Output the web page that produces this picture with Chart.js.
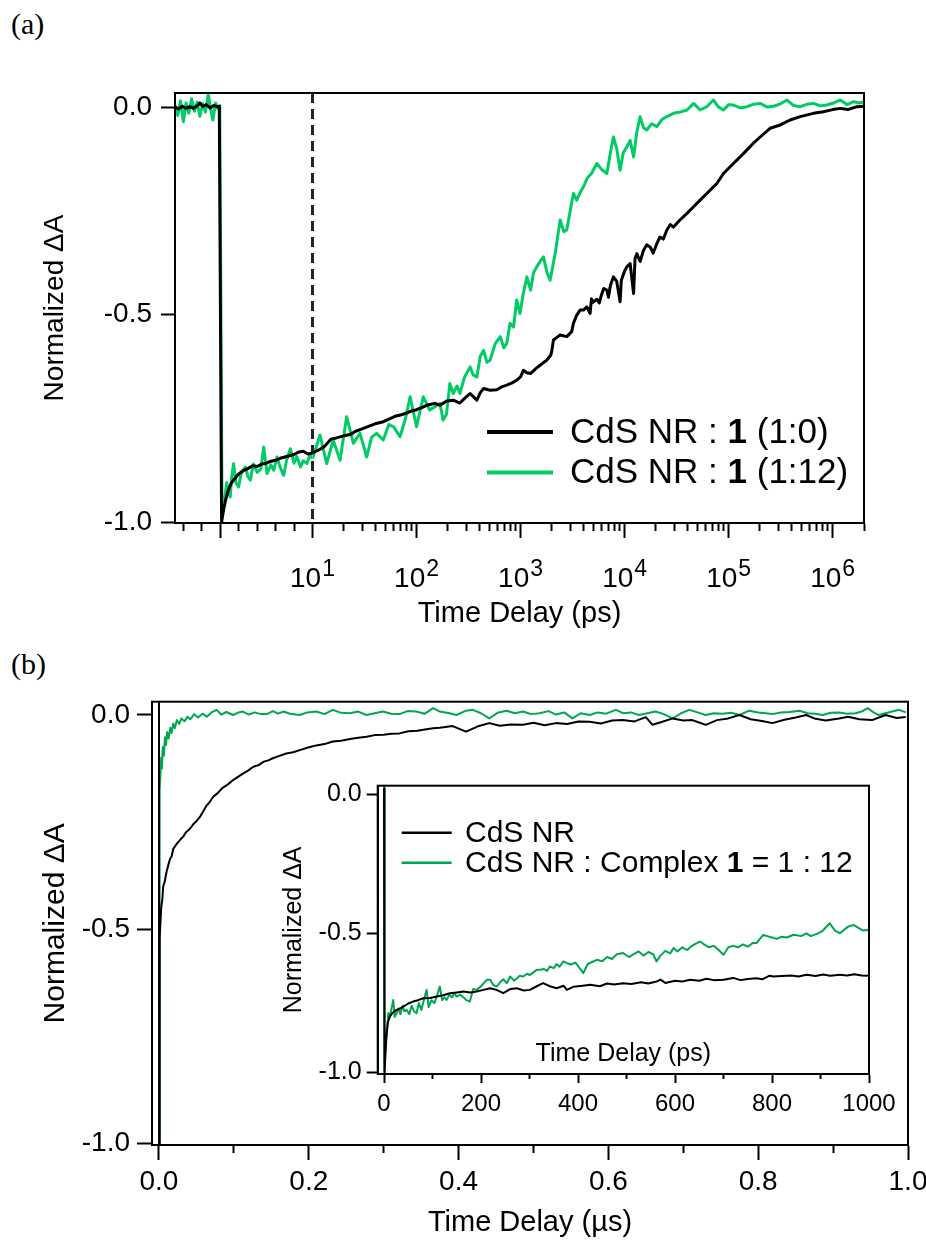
<!DOCTYPE html>
<html>
<head>
<meta charset="utf-8">
<script src="https://cdn.jsdelivr.net/npm/chart.js@4.4.1/dist/chart.umd.min.js"></script>
<style>
  html, body { margin: 0; padding: 0; background: #fff; }
  #page { position: relative; width: 926px; height: 1241px; overflow: hidden; background: #fff; }
  .panel { position: absolute; font-family: "Liberation Serif", "Times New Roman", serif; font-size: 30px; line-height: 30px; color: #000; }
  canvas { position: absolute; }
</style>
</head>
<body>
<div id="page">
  <div class="panel" style="left:11px;top:9px">(a)</div>
  <div class="panel" style="left:11px;top:649px">(b)</div>
  <canvas id="chartA" width="926" height="640" style="left:0;top:0"></canvas>
  <canvas id="chartB" width="926" height="601" style="left:0;top:640px"></canvas>
  <canvas id="chartInset" width="640" height="360" style="left:270px;top:760px"></canvas>
</div>
<script>
// ---- data (a): [time in ps, normalized dA] ----
const aBlack = [
  [-4.9,0.000],[-4.5,-0.004],[-4.1,0.002],[-3.7,-0.003],[-3.3,0.001],[-2.9,-0.003],[-2.5,0.003],[-2.2,0.010],
  [-1.9,0.002],[-1.5,0.006],[-1.1,-0.002],[-0.7,0.004],[-0.35,0.001],[-0.1,0.002],[0.15,-1.000],[0.35,-0.972],
  [0.6,-0.945],[0.9,-0.921],[1.2,-0.906],[1.5,-0.897],[2.0,-0.884],[2.5,-0.876],[3.0,-0.871],[3.5,-0.864],
  [4.0,-0.866],[4.5,-0.860],[5.0,-0.858],[5.5,-0.853],[6.0,-0.851],[6.5,-0.846],[7.0,-0.843],[7.5,-0.840],
  [8.0,-0.837],[8.5,-0.831],[9.0,-0.829],[9.5,-0.836],[10,-0.833],
  [11.5,-0.826],[13,-0.818],[15,-0.800],[17,-0.797],[20,-0.792],[23,-0.789],[26,-0.781],[30,-0.775],[34,-0.770],
  [40,-0.763],[48,-0.758],[55,-0.751],[62,-0.745],[70,-0.742],[80,-0.737],[90,-0.732],[100,-0.729],[115,-0.723],
  [130,-0.717],[150,-0.714],[168,-0.718],[195,-0.708],[225,-0.706],[261,-0.713],[295,-0.700],[327,-0.690],
  [380,-0.706],[410,-0.688],[441,-0.678],[510,-0.682],[590,-0.681],[660,-0.674],[736,-0.670],[820,-0.665],
  [918,-0.658],[1000,-0.650],[1064,-0.634],[1150,-0.640],[1247,-0.642],[1400,-0.630],[1540,-0.622],[1780,-0.610],
  [1950,-0.598],[2000,-0.586],[2070,-0.561],[2200,-0.556],[2400,-0.549],[2780,-0.553],[3100,-0.541],[3220,-0.521],
  [3470,-0.501],[3730,-0.489],[4020,-0.489],[4330,-0.481],[4660,-0.497],[4800,-0.462],[5000,-0.470],[5410,-0.463],
  [5700,-0.472],[6000,-0.452],[6300,-0.437],[6750,-0.441],[7000,-0.458],[7300,-0.430],[7800,-0.409],[8400,-0.420],
  [9050,-0.469],[9300,-0.417],[10000,-0.395],[10500,-0.385],[11300,-0.377],[12200,-0.449],[12600,-0.365],
  [13100,-0.353],[14100,-0.372],[15200,-0.345],[16300,-0.332],[17600,-0.337],[18800,-0.352],[20400,-0.329],
  [21900,-0.313],[23500,-0.318],[25500,-0.296],[27500,-0.283],[29500,-0.289],[34000,-0.272],[39800,-0.256],
  [46000,-0.240],[53200,-0.224],[61700,-0.208],[77000,-0.184],[89200,-0.160],[111000,-0.136],[129000,-0.120],
  [150000,-0.103],[173000,-0.087],[201000,-0.072],[250000,-0.051],[313000,-0.043],[390000,-0.031],[487000,-0.023],
  [653000,-0.015],[813000,-0.011],[1000000,-0.006],[1180000,-0.003],[1400000,-0.006],[1710000,0.001],[2000000,0.002]
];
const aGreen = [
  [-4.9,0.005],[-4.6,-0.020],[-4.3,0.015],[-4.0,-0.035],[-3.7,0.010],[-3.4,-0.015],[-3.1,0.020],[-2.8,-0.010],
  [-2.5,0.012],[-2.2,-0.022],[-1.9,0.008],[-1.6,-0.012],[-1.3,0.031],[-1.0,-0.008],[-0.8,-0.031],[-0.5,0.010],
  [-0.25,-0.004],[-0.05,0.003],[0.2,-0.985],[0.45,-0.950],[0.7,-0.905],[0.9,-0.930],[1.09,-0.939],[1.25,-0.890],
  [1.45,-0.859],[1.7,-0.905],[1.99,-0.915],[2.3,-0.880],[2.72,-0.867],[3.0,-0.890],[3.26,-0.899],[3.6,-0.860],
  [4.0,-0.880],[4.4,-0.872],[4.71,-0.819],[5.07,-0.883],[5.5,-0.862],[5.8,-0.875],[6.16,-0.843],[6.5,-0.868],
  [6.88,-0.887],[7.2,-0.850],[7.6,-0.823],[8.0,-0.858],[8.3,-0.842],[8.7,-0.867],[9.0,-0.852],[9.4,-0.859],
  [9.7,-0.838],[10,-0.847],
  [11.8,-0.790],[13.7,-0.859],[15.8,-0.802],[18.4,-0.851],[21.3,-0.746],[24.7,-0.810],[28.6,-0.786],[33.2,-0.843],
  [37,-0.795],[41.3,-0.786],[47.9,-0.802],[54,-0.765],[59.9,-0.770],[69.4,-0.794],[78,-0.752],[86.8,-0.698],
  [100,-0.770],[116,-0.698],[134,-0.730],[150,-0.722],[168,-0.714],[180,-0.754],[194,-0.740],[209,-0.666],
  [225,-0.690],[245,-0.672],[261,-0.690],[290,-0.650],[327,-0.626],[350,-0.645],[380,-0.650],[410,-0.600],
  [441,-0.586],[475,-0.615],[509,-0.610],[570,-0.570],[638,-0.553],[690,-0.580],[736,-0.570],[793,-0.521],
  [856,-0.530],[918,-0.465],[987,-0.497],[1060,-0.450],[1150,-0.409],[1247,-0.441],[1330,-0.400],[1430,-0.385],
  [1540,-0.372],[1660,-0.361],[1800,-0.400],[1923,-0.417],[2150,-0.353],[2400,-0.272],[2600,-0.300],[2780,-0.296],
  [3000,-0.250],[3220,-0.208],[3470,-0.224],[3750,-0.205],[4020,-0.192],[4400,-0.170],[4800,-0.160],[5400,-0.136],
  [6000,-0.150],[6750,-0.160],[7300,-0.110],[7800,-0.072],[8400,-0.100],[9050,-0.152],[9700,-0.110],[10500,-0.096],
  [11300,-0.080],[12200,-0.120],[13100,-0.060],[14100,-0.023],[15200,-0.050],[16300,-0.055],[18200,-0.040],
  [20400,-0.047],[22800,-0.030],[25500,-0.023],[29500,-0.015],[34000,-0.012],[39800,-0.007],[46000,0.009],
  [53200,-0.007],[61700,0.001],[71500,0.017],[80000,0.000],[89200,-0.007],[100000,0.006],[111000,0.005],
  [130000,-0.002],[150000,0.001],[175000,0.007],[201000,0.009],[235000,0.000],[271000,0.002],[315000,0.008],
  [363000,0.017],[420000,0.004],[490000,0.001],[570000,0.007],[653000,0.009],[760000,0.003],[879000,0.005],
  [1020000,0.010],[1180000,0.017],[1380000,0.006],[1590000,0.013],[1800000,0.010],[2000000,0.013]
];
const aLinearTicks = [-4, -2, 0, 2, 4, 6, 8];
const aDecadeExponents = [1, 2, 3, 4, 5, 6];
const yTickValues = [-1.0, -0.5, 0.0];

// ---- data (b): [time in us, normalized dA] ----
const bBlack = [
  [0,0.03],[0.0002,-1.0],[0.0006,-0.75],[0.0013,-0.52],[0.003,-0.45],[0.0045,-0.43],[0.0057,-0.40],[0.0075,-0.39],
  [0.0103,-0.365],[0.0125,-0.35],[0.015,-0.335],[0.017,-0.33],[0.019,-0.313],[0.022,-0.305],[0.025,-0.298],
  [0.028,-0.292],[0.0324,-0.284],[0.036,-0.274],[0.04,-0.268],[0.043,-0.262],[0.0457,-0.255],[0.05,-0.248],
  [0.0547,-0.238],[0.058,-0.228],[0.063,-0.213],[0.067,-0.205],[0.0724,-0.191],[0.078,-0.183],[0.085,-0.170],
  [0.092,-0.162],[0.099,-0.152],[0.105,-0.145],[0.112,-0.137],[0.119,-0.130],[0.126,-0.121],[0.133,-0.117],
  [0.14,-0.109],[0.146,-0.106],[0.152,-0.101],[0.16,-0.096],[0.17,-0.090],[0.179,-0.087],[0.188,-0.082],
  [0.199,-0.076],[0.21,-0.071],[0.221,-0.068],[0.232,-0.062],[0.243,-0.060],[0.255,-0.056],[0.266,-0.053],
  [0.277,-0.051],[0.288,-0.047],[0.3,-0.046],[0.31,-0.044],[0.321,-0.043],[0.333,-0.038],[0.345,-0.037],
  [0.355,-0.034],[0.366,-0.031],[0.375,-0.030],[0.392,-0.026],[0.41,-0.039],[0.425,-0.027],[0.441,-0.019],
  [0.455,-0.025],[0.47,-0.022],[0.486,-0.023],[0.5,-0.018],[0.515,-0.024],[0.53,-0.019],[0.545,-0.021],
  [0.56,-0.015],[0.575,-0.016],[0.59,-0.020],[0.605,-0.013],[0.619,-0.012],[0.635,-0.015],[0.65,-0.005],
  [0.659,-0.023],[0.672,-0.016],[0.686,-0.008],[0.7,-0.013],[0.712,-0.012],[0.722,-0.018],[0.73,-0.023],
  [0.745,-0.012],[0.76,-0.008],[0.775,0.0],[0.79,-0.010],[0.805,-0.014],[0.819,-0.019],[0.835,-0.011],
  [0.85,-0.006],[0.864,0.0],[0.875,-0.008],[0.89,-0.013],[0.908,-0.008],[0.92,-0.004],[0.935,-0.010],
  [0.952,-0.012],[0.97,0.0],[0.985,-0.007],[0.997,-0.005]
];
const bGreen = [
  [0,0.03],[0.0002,-1.0],[0.0005,-0.6],[0.0009,-0.32],[0.0013,-0.175],[0.002,-0.14],[0.003,-0.10],[0.004,-0.125],
  [0.005,-0.075],[0.0065,-0.095],[0.008,-0.052],[0.0095,-0.070],[0.011,-0.040],[0.013,-0.055],[0.015,-0.030],
  [0.017,-0.042],[0.019,-0.020],[0.021,-0.031],[0.024,-0.012],[0.027,-0.021],[0.03,-0.008],[0.034,-0.015],
  [0.038,-0.004],[0.042,-0.010],[0.047,0.002],[0.052,-0.006],[0.058,0.003],[0.064,-0.004],[0.07,0.006],
  [0.077,0.012],[0.083,0.001],[0.09,0.007],[0.099,0.0],[0.105,0.005],[0.112,0.008],[0.12,0.001],[0.128,0.006],
  [0.136,0.002],[0.144,0.002],[0.152,0.009],[0.159,0.003],[0.166,0.008],[0.175,0.003],[0.188,0.0],[0.198,0.006],
  [0.21,0.008],[0.221,0.002],[0.232,0.012],[0.243,0.005],[0.255,0.004],[0.266,0.008],[0.277,0.0],[0.288,0.004],
  [0.299,0.008],[0.31,0.003],[0.321,0.002],[0.332,0.009],[0.343,0.008],[0.355,0.003],[0.366,0.016],[0.375,0.008],
  [0.388,0.004],[0.397,0.0],[0.41,0.01],[0.419,0.012],[0.43,0.004],[0.441,-0.008],[0.452,0.005],[0.464,0.010],
  [0.475,0.004],[0.486,0.008],[0.497,0.002],[0.508,0.004],[0.52,0.009],[0.53,0.001],[0.541,0.006],[0.552,-0.008],
  [0.563,0.004],[0.575,0.0],[0.586,0.006],[0.597,0.003],[0.61,0.012],[0.62,0.004],[0.63,0.006],[0.641,0.0],
  [0.652,0.004],[0.663,0.008],[0.674,0.002],[0.686,-0.008],[0.697,0.004],[0.708,0.012],[0.719,0.006],[0.73,0.0],
  [0.741,0.004],[0.752,0.003],[0.764,0.005],[0.775,0.0],[0.788,0.01],[0.8,0.006],[0.81,0.004],[0.819,0.002],
  [0.83,0.006],[0.842,0.007],[0.855,0.01],[0.866,0.004],[0.876,0.003],[0.886,0.0],[0.897,0.005],[0.908,0.006],
  [0.919,0.003],[0.93,0.004],[0.938,0.008],[0.946,0.016],[0.954,0.006],[0.961,0.0],[0.97,0.004],[0.979,0.008],
  [0.988,0.012],[0.997,0.006]
];
const bTicks = [0, 0.1, 0.2, 0.3, 0.4, 0.5, 0.6, 0.7, 0.8, 0.9, 1.0];
const bLabelled = [0, 0.2, 0.4, 0.6, 0.8, 1.0];

// ---- data (b) inset: [time in ps, normalized dA] ----
const insetBlack = [
  [0,0.02],[1,-1.0],[3,-0.93],[5.5,-0.858],[8,-0.82],[12,-0.799],[18,-0.785],[26,-0.775],[33,-0.77],[40,-0.763],
  [50,-0.752],[60,-0.745],[70,-0.74],[81,-0.733],[95,-0.732],[109,-0.727],[122,-0.722],[136,-0.715],[150,-0.712],
  [164,-0.709],[178,-0.712],[191,-0.709],[205,-0.703],[219,-0.697],[232,-0.703],[246,-0.715],[260,-0.700],
  [274,-0.697],[288,-0.705],[301,-0.703],[315,-0.690],[328,-0.679],[342,-0.690],[356,-0.697],[370,-0.688],
  [377,-0.703],[390,-0.692],[410,-0.688],[425,-0.685],[445,-0.690],[460,-0.680],[475,-0.684],[493,-0.679],
  [510,-0.682],[530,-0.676],[545,-0.680],[562,-0.673],[570,-0.666],[580,-0.678],[600,-0.670],[615,-0.673],
  [631,-0.667],[650,-0.670],[665,-0.663],[680,-0.668],[700,-0.667],[720,-0.660],[735,-0.668],[750,-0.664],
  [768,-0.661],[780,-0.665],[795,-0.652],[803,-0.655],[820,-0.653],[840,-0.651],[855,-0.655],[871,-0.649],
  [890,-0.653],[905,-0.648],[920,-0.652],[940,-0.649],[955,-0.651],[970,-0.647],[985,-0.651],[1000,-0.652]
];
const insetGreen = [
  [0,0.026],[1,-1.0],[3,-0.907],[6,-0.85],[9,-0.786],[12,-0.80],[16,-0.765],[19,-0.739],[22,-0.80],[26,-0.787],
  [30,-0.77],[34,-0.79],[38,-0.76],[42,-0.78],[47,-0.775],[52,-0.79],[57,-0.76],[62,-0.78],[67,-0.787],[72,-0.75],
  [77,-0.775],[82,-0.74],[88,-0.703],[92,-0.765],[98,-0.74],[104,-0.75],[110,-0.72],[115,-0.691],[120,-0.74],
  [125,-0.73],[129,-0.739],[135,-0.72],[140,-0.73],[145,-0.715],[150,-0.727],[157,-0.72],[164,-0.73],[170,-0.74],
  [177,-0.745],[184,-0.70],[191,-0.703],[200,-0.69],[205,-0.68],[212,-0.667],[219,-0.667],[225,-0.685],
  [232,-0.691],[240,-0.675],[246,-0.665],[253,-0.679],[260,-0.655],[268,-0.67],[275,-0.66],[280,-0.652],
  [287,-0.655],[295,-0.645],[300,-0.65],[308,-0.64],[315,-0.631],[322,-0.631],[330,-0.628],[336,-0.635],
  [342,-0.619],[350,-0.625],[356,-0.61],[362,-0.62],[370,-0.601],[377,-0.607],[385,-0.612],[395,-0.605],
  [411,-0.643],[420,-0.61],[430,-0.602],[439,-0.595],[450,-0.60],[460,-0.585],[470,-0.592],[480,-0.575],
  [493,-0.571],[505,-0.585],[515,-0.575],[525,-0.565],[535,-0.58],[545,-0.567],[555,-0.575],[562,-0.601],
  [570,-0.58],[580,-0.563],[590,-0.572],[597,-0.553],[605,-0.565],[615,-0.55],[625,-0.56],[635,-0.545],
  [645,-0.535],[652,-0.529],[660,-0.54],[670,-0.55],[680,-0.545],[690,-0.56],[700,-0.577],[710,-0.55],
  [720,-0.545],[730,-0.55],[740,-0.54],[750,-0.548],[760,-0.535],[768,-0.535],[775,-0.52],[782,-0.506],
  [790,-0.51],[800,-0.515],[810,-0.52],[820,-0.512],[830,-0.515],[845,-0.505],[860,-0.51],[871,-0.5],
  [880,-0.51],[895,-0.50],[905,-0.49],[919,-0.464],[930,-0.49],[940,-0.5],[950,-0.485],[958,-0.475],
  [968,-0.47],[978,-0.48],[988,-0.49],[998,-0.488]
];
const insetTicks = [0, 100, 200, 300, 400, 500, 600, 700, 800, 900, 1000];
const insetLabelled = [0, 200, 400, 600, 800, 1000];

const FONT = "'Liberation Sans', Arial, Helvetica, sans-serif";
const GREEN_A = '#00cc66';
const GREEN_B = '#00a651';

Chart.defaults.font.family = FONT;
Chart.defaults.color = '#000';
Chart.defaults.elements.point.radius = 0;
Chart.defaults.elements.line.tension = 0;
Chart.defaults.elements.line.borderJoinStyle = 'round';

const toPoints = (pairs, from, to) =>
  pairs.filter(([t]) => t >= from && t <= to).map(([t, v]) => ({ x: t, y: v }));

// long tick for listed values, short dashed stub for the rest
const tickDash = (longValues, shortLen) => (ctx) =>
  (ctx.tick && longValues.includes(ctx.tick.value)) ? [] : [shortLen, 80];

const noLayoutPadding = (s) => { s.paddingLeft = 0; s.paddingRight = 0; s.paddingTop = 0; s.paddingBottom = 0; };

function yAxis(o) {
  return {
    min: o.min, max: o.max,
    afterBuildTicks: (s) => { s.ticks = yTickValues.map((v) => ({ value: v })); },
    afterFit: (s) => { s.width = o.width; noLayoutPadding(s); },
    ticks: { callback: (v) => v.toFixed(1), font: { size: o.font }, padding: o.pad, color: '#000' },
    grid: { drawOnChartArea: false, tickLength: o.tick, tickWidth: 2, tickColor: '#000' },
    border: { color: '#000', width: 2 },
    title: { display: true, text: 'Normalized ΔA', font: { size: o.titleFont }, padding: { top: o.titlePad, bottom: 0 }, color: '#000' }
  };
}

const framePlugin = {
  id: 'frame',
  afterDatasetsDraw(chart, args, opts) {
    const { ctx, chartArea: a } = chart;
    ctx.save();
    ctx.strokeStyle = '#000';
    ctx.lineWidth = opts.width || 2;
    ctx.strokeRect(a.left, a.top, a.right - a.left, a.bottom - a.top);
    ctx.restore();
  }
};

function richLegend(id, rows, lay) {
  return {
    id,
    afterDatasetsDraw(chart) {
      const { ctx, chartArea } = chart;
      ctx.save();
      rows.forEach((row, i) => {
        const base = chartArea.top + lay.top + i * lay.gap;
        ctx.strokeStyle = row.color;
        ctx.lineWidth = lay.lineWidth;
        ctx.beginPath();
        ctx.moveTo(chartArea.left + lay.lineFrom, base - lay.lineRise);
        ctx.lineTo(chartArea.left + lay.lineTo, base - lay.lineRise);
        ctx.stroke();
        let x = chartArea.left + lay.textFrom;
        ctx.fillStyle = '#000';
        ctx.textAlign = 'left';
        ctx.textBaseline = 'alphabetic';
        row.parts.forEach(([text, bold]) => {
          ctx.font = (bold ? 'bold ' : '') + lay.fontSize + 'px ' + FONT;
          ctx.fillText(text, x, base);
          x += ctx.measureText(text).width;
        });
      });
      ctx.restore();
    }
  };
}

// ---------------- chart (a) ----------------
const A_SPLIT = 10;
const A_Y_MIN = -1.002, A_Y_MAX = 0.034;
const aDecades = aDecadeExponents.map((e) => Math.pow(10, e));
const aLogTicks = [];
aDecadeExponents.forEach((e) => {
  for (let m = 1; m <= 9; m++) {
    const v = m * Math.pow(10, e);
    if (v <= 2e6) aLogTicks.push(v);
  }
});

const decadeLabels = {
  id: 'decadeLabels',
  afterDraw(chart) {
    const { ctx, chartArea } = chart;
    const scale = chart.scales.x2;
    const base = chartArea.bottom + 63.7;
    ctx.save();
    ctx.fillStyle = '#000';
    ctx.textAlign = 'left';
    ctx.textBaseline = 'alphabetic';
    aDecadeExponents.forEach((e) => {
      const px = scale.getPixelForValue(Math.pow(10, e));
      ctx.font = '28px ' + FONT;
      const w1 = ctx.measureText('10').width;
      ctx.font = '23px ' + FONT;
      const w2 = ctx.measureText(String(e)).width;
      const x0 = px - (w1 + w2 + 1) / 2;
      ctx.font = '28px ' + FONT;
      ctx.fillText('10', x0, base);
      ctx.font = '23px ' + FONT;
      ctx.fillText(String(e), x0 + w1 + 1, base - 11);
    });
    ctx.font = '29px ' + FONT;
    ctx.textAlign = 'center';
    ctx.fillText('Time Delay (ps)', (chartArea.left + chartArea.right) / 2, chartArea.bottom + 98.7);
    ctx.restore();
  }
};

const legendA = richLegend('legendA', [
  { color: '#000', parts: [['CdS NR : ', false], ['1', true], [' (1:0)', false]] },
  { color: GREEN_A, parts: [['CdS NR : ', false], ['1', true], [' (1:12)', false]] }
], { top: 349.7, gap: 40.6, lineFrom: 312, lineTo: 378, lineRise: 10.7, textFrom: 395, fontSize: 35, lineWidth: 4 });

const lineA = (data, color, axis) => ({ data, xAxisID: axis, borderColor: color, borderWidth: 3, fill: false });

new Chart(document.getElementById('chartA'), {
  type: 'line',
  data: {
    datasets: [
      lineA(toPoints(aBlack, -Infinity, A_SPLIT), '#000', 'x'),
      lineA(toPoints(aBlack, A_SPLIT, Infinity), '#000', 'x2'),
      lineA(toPoints(aGreen, -Infinity, A_SPLIT), GREEN_A, 'x'),
      lineA(toPoints(aGreen, A_SPLIT, Infinity), GREEN_A, 'x2'),
      { data: [{ x: A_SPLIT, y: A_Y_MAX }, { x: A_SPLIT, y: A_Y_MIN }], xAxisID: 'x2', clip: false,
        borderColor: '#222', borderWidth: 3, borderDash: [10, 6], fill: false }
    ]
  },
  options: {
    responsive: false,
    animation: false,
    devicePixelRatio: 1,
    events: [],
    layout: { padding: { top: 93, right: 62, left: 0, bottom: 0 } },
    plugins: { legend: { display: false }, tooltip: { enabled: false }, frame: { width: 2 } },
    scales: {
      x: {
        type: 'linear', position: 'bottom', stack: 'time', stackWeight: 137.5,
        min: -4.9, max: A_SPLIT,
        afterBuildTicks: (s) => { s.ticks = aLinearTicks.map((v) => ({ value: v })); },
        afterFit: (s) => { s.height = 117; noLayoutPadding(s); },
        ticks: { callback: () => '', autoSkip: false },
        grid: { drawOnChartArea: false, tickLength: 15, tickWidth: 2, tickColor: '#000', tickBorderDash: tickDash([0], 7) },
        border: { color: '#000', width: 2 }
      },
      x2: {
        type: 'logarithmic', position: 'bottom', stack: 'time', stackWeight: 551.5,
        min: A_SPLIT, max: 2e6,
        afterBuildTicks: (s) => { s.ticks = aLogTicks.map((v) => ({ value: v })); },
        afterFit: (s) => { s.height = 117; noLayoutPadding(s); },
        ticks: { callback: () => '', autoSkip: false },
        grid: { drawOnChartArea: false, tickLength: 15, tickWidth: 2, tickColor: '#000', tickBorderDash: tickDash(aDecades, 7) },
        border: { color: '#000', width: 2 }
      },
      y: yAxis({ min: A_Y_MIN, max: A_Y_MAX, width: 175, font: 28, pad: 9, tick: 14, titleFont: 28, titlePad: 38 })
    }
  },
  plugins: [framePlugin, legendA, decadeLabels]
});

// ---------------- chart (b) ----------------
const lineB = (data, color) => ({ data, borderColor: color, borderWidth: 2, fill: false });

new Chart(document.getElementById('chartB'), {
  type: 'line',
  data: { datasets: [lineB(toPoints(bBlack, -Infinity, Infinity), '#000'), lineB(toPoints(bGreen, -Infinity, Infinity), GREEN_B)] },
  options: {
    responsive: false,
    animation: false,
    devicePixelRatio: 1,
    events: [],
    layout: { padding: { top: 61.7, right: 18, left: 0, bottom: 0 } },
    plugins: { legend: { display: false }, tooltip: { enabled: false }, frame: { width: 2 } },
    scales: {
      x: {
        type: 'linear', min: -0.0093, max: 1.0,
        afterBuildTicks: (s) => { s.ticks = bTicks.map((v) => ({ value: v })); },
        afterFit: (s) => { s.height = 96; noLayoutPadding(s); },
        ticks: { callback: (v) => bLabelled.includes(v) ? v.toFixed(1) : '', autoSkip: false, maxRotation: 0, font: { size: 28 }, padding: 5, color: '#000' },
        grid: { drawOnChartArea: false, tickLength: 15, tickWidth: 2, tickColor: '#000', tickBorderDash: tickDash(bLabelled, 7) },
        border: { color: '#000', width: 2 },
        title: { display: true, text: 'Time Delay (µs)', font: { size: 29 }, padding: { top: 0, bottom: 1 }, color: '#000' }
      },
      y: yAxis({ min: -1.004, max: 0.031, width: 152, font: 28, pad: 7, tick: 15, titleFont: 30, titlePad: 38 })
    }
  },
  plugins: [framePlugin]
});

// ---------------- inset of (b) ----------------
const legendInset = richLegend('legendInset', [
  { color: '#000', parts: [['CdS NR', false]] },
  { color: GREEN_B, parts: [['CdS NR : Complex ', false], ['1', true], [' = 1 : 12', false]] }
], { top: 56, gap: 30, lineFrom: 24, lineTo: 74, lineRise: 9, textFrom: 87.3, fontSize: 30, lineWidth: 2.5 });

new Chart(document.getElementById('chartInset'), {
  type: 'line',
  data: { datasets: [lineB(toPoints(insetBlack, -Infinity, Infinity), '#000'), lineB(toPoints(insetGreen, -Infinity, Infinity), GREEN_B)] },
  options: {
    responsive: false,
    animation: false,
    devicePixelRatio: 1,
    events: [],
    layout: { padding: { top: 25.7, right: 41, left: 0, bottom: 0 } },
    plugins: { legend: { display: false }, tooltip: { enabled: false }, frame: { width: 2 } },
    scales: {
      x: {
        type: 'linear', min: -13, max: 1000,
        afterBuildTicks: (s) => { s.ticks = insetTicks.map((v) => ({ value: v })); },
        afterFit: (s) => { s.height = 46; noLayoutPadding(s); },
        ticks: { callback: (v) => insetLabelled.includes(v) ? String(v) : '', autoSkip: false, maxRotation: 0, font: { size: 24 }, padding: 6.6, color: '#000' },
        grid: { drawOnChartArea: false, tickLength: 9, tickWidth: 2, tickColor: '#000', tickBorderDash: tickDash(insetLabelled, 4) },
        border: { color: '#000', width: 2 },
        title: { display: true, text: 'Time Delay (ps)', font: { size: 25 }, padding: { top: 0, bottom: 51 }, color: '#000' }
      },
      y: yAxis({ min: -1.005, max: 0.030, width: 107.7, font: 25, pad: 5, tick: 11, titleFont: 25, titlePad: 9 })
    }
  },
  plugins: [framePlugin, legendInset]
});
</script>
</body>
</html>
